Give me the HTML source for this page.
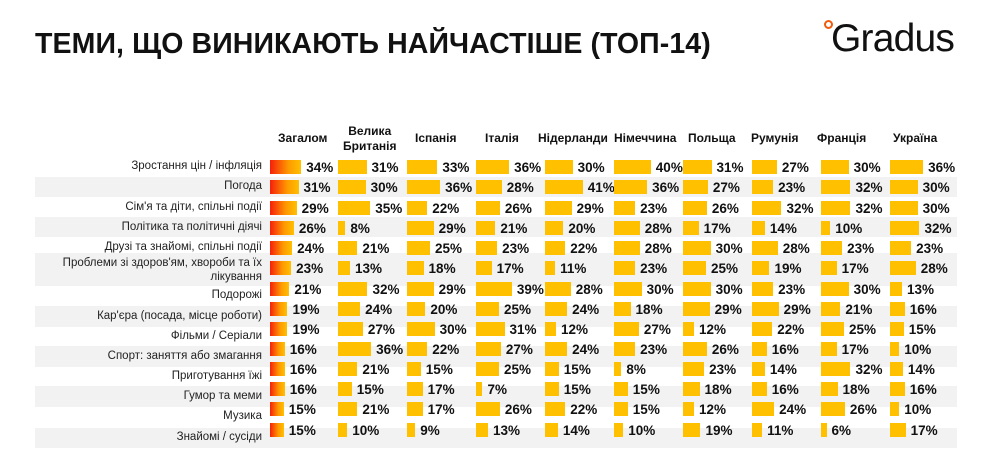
<!DOCTYPE html>
<html><head><meta charset="utf-8"><style>
body{margin:0;width:986px;height:453px;background:#fff;position:relative;overflow:hidden;font-family:"Liberation Sans",Arial,sans-serif;color:#111}
.t{position:absolute;left:35px;top:28px;font-size:28.5px;font-weight:bold;letter-spacing:0.1px;white-space:nowrap}
.logo{position:absolute;left:831px;top:17px;font-size:39px;color:#111;letter-spacing:-0.8px}
.dot{position:absolute;left:824px;top:20px;width:5px;height:5px;border:2px solid #f25a0c;border-radius:50%}
.band{position:absolute;left:35px;width:922px;background:#f2f2f2}
.h{position:absolute;font-size:12px;font-weight:bold;text-align:center;line-height:15px}
.lb{position:absolute;right:724px;font-size:11.5px;color:#222;text-align:right;line-height:13px;white-space:nowrap}
.r{position:absolute;left:0;height:14px;width:986px}
.r i{position:absolute;top:0;height:14px;display:flex;align-items:center;font-style:normal;font-weight:bold;font-size:13.5px;white-space:nowrap}
.r i b{display:block;height:14px;width:calc(var(--v)*0.92px);background:#ffc000;margin-right:5px}
.r i:nth-child(1) b{background:linear-gradient(90deg,#f5200a,#ff9a00 60%,#ffc000)}
.r i:nth-child(1){left:270px}.r i:nth-child(2){left:338px}.r i:nth-child(3){left:407px}.r i:nth-child(4){left:476px}.r i:nth-child(5){left:545px}.r i:nth-child(6){left:614px}.r i:nth-child(7){left:683px}.r i:nth-child(8){left:752px}.r i:nth-child(9){left:821px}.r i:nth-child(10){left:890px}
</style></head><body>
<div class="t">ТЕМИ, ЩО ВИНИКАЮТЬ НАЙЧАСТІШЕ (ТОП-14)</div>
<div class="dot"></div><div class="logo">Gradus</div>

<div class="band" style="top:177px;height:20px"></div>
<div class="band" style="top:217px;height:20px"></div>
<div class="band" style="top:253px;height:33px"></div>
<div class="band" style="top:306px;height:21px"></div>
<div class="band" style="top:346px;height:21px"></div>
<div class="band" style="top:386px;height:21px"></div>
<div class="band" style="top:428px;height:20px"></div>

<div class="h" style="left:278px;top:131px">Загалом</div>
<div class="h" style="left:343px;top:124px">Велика<br>Британія</div>
<div class="h" style="left:415px;top:131px">Іспанія</div>
<div class="h" style="left:485px;top:131px">Італія</div>
<div class="h" style="left:538px;top:131px">Нідерланди</div>
<div class="h" style="left:614px;top:131px">Німеччина</div>
<div class="h" style="left:688px;top:131px">Польща</div>
<div class="h" style="left:751px;top:131px">Румунія</div>
<div class="h" style="left:817px;top:131px">Франція</div>
<div class="h" style="left:893px;top:131px">Україна</div>

<div class="lb" style="top:160px">Зростання цін / інфляція</div>
<div class="lb" style="top:180px">Погода</div>
<div class="lb" style="top:201px">Сім'я та діти, спільні події</div>
<div class="lb" style="top:221px">Політика та політичні діячі</div>
<div class="lb" style="top:241px">Друзі та знайомі, спільні події</div>
<div class="lb" style="top:256px;line-height:14px">Проблеми зі здоров'ям, хвороби та їх<br>лікування</div>
<div class="lb" style="top:289px">Подорожі</div>
<div class="lb" style="top:310px">Кар'єра (посада, місце роботи)</div>
<div class="lb" style="top:330px">Фільми / Серіали</div>
<div class="lb" style="top:350px">Спорт: заняття або змагання</div>
<div class="lb" style="top:370px">Приготування їжі</div>
<div class="lb" style="top:390px">Гумор та меми</div>
<div class="lb" style="top:410px">Музика</div>
<div class="lb" style="top:431px">Знайомі / сусіди</div>

<div class="r" style="top:160px"><i style="--v:34"><b></b>34%</i><i style="--v:31"><b></b>31%</i><i style="--v:33"><b></b>33%</i><i style="--v:36"><b></b>36%</i><i style="--v:30"><b></b>30%</i><i style="--v:40"><b></b>40%</i><i style="--v:31"><b></b>31%</i><i style="--v:27"><b></b>27%</i><i style="--v:30"><b></b>30%</i><i style="--v:36"><b></b>36%</i></div>
<div class="r" style="top:180px"><i style="--v:31"><b></b>31%</i><i style="--v:30"><b></b>30%</i><i style="--v:36"><b></b>36%</i><i style="--v:28"><b></b>28%</i><i style="--v:41"><b></b>41%</i><i style="--v:36"><b></b>36%</i><i style="--v:27"><b></b>27%</i><i style="--v:23"><b></b>23%</i><i style="--v:32"><b></b>32%</i><i style="--v:30"><b></b>30%</i></div>
<div class="r" style="top:201px"><i style="--v:29"><b></b>29%</i><i style="--v:35"><b></b>35%</i><i style="--v:22"><b></b>22%</i><i style="--v:26"><b></b>26%</i><i style="--v:29"><b></b>29%</i><i style="--v:23"><b></b>23%</i><i style="--v:26"><b></b>26%</i><i style="--v:32"><b></b>32%</i><i style="--v:32"><b></b>32%</i><i style="--v:30"><b></b>30%</i></div>
<div class="r" style="top:221px"><i style="--v:26"><b></b>26%</i><i style="--v:8"><b></b>8%</i><i style="--v:29"><b></b>29%</i><i style="--v:21"><b></b>21%</i><i style="--v:20"><b></b>20%</i><i style="--v:28"><b></b>28%</i><i style="--v:17"><b></b>17%</i><i style="--v:14"><b></b>14%</i><i style="--v:10"><b></b>10%</i><i style="--v:32"><b></b>32%</i></div>
<div class="r" style="top:241px"><i style="--v:24"><b></b>24%</i><i style="--v:21"><b></b>21%</i><i style="--v:25"><b></b>25%</i><i style="--v:23"><b></b>23%</i><i style="--v:22"><b></b>22%</i><i style="--v:28"><b></b>28%</i><i style="--v:30"><b></b>30%</i><i style="--v:28"><b></b>28%</i><i style="--v:23"><b></b>23%</i><i style="--v:23"><b></b>23%</i></div>
<div class="r" style="top:261px"><i style="--v:23"><b></b>23%</i><i style="--v:13"><b></b>13%</i><i style="--v:18"><b></b>18%</i><i style="--v:17"><b></b>17%</i><i style="--v:11"><b></b>11%</i><i style="--v:23"><b></b>23%</i><i style="--v:25"><b></b>25%</i><i style="--v:19"><b></b>19%</i><i style="--v:17"><b></b>17%</i><i style="--v:28"><b></b>28%</i></div>
<div class="r" style="top:282px"><i style="--v:21"><b></b>21%</i><i style="--v:32"><b></b>32%</i><i style="--v:29"><b></b>29%</i><i style="--v:39"><b></b>39%</i><i style="--v:28"><b></b>28%</i><i style="--v:30"><b></b>30%</i><i style="--v:30"><b></b>30%</i><i style="--v:23"><b></b>23%</i><i style="--v:30"><b></b>30%</i><i style="--v:13"><b></b>13%</i></div>
<div class="r" style="top:302px"><i style="--v:19"><b></b>19%</i><i style="--v:24"><b></b>24%</i><i style="--v:20"><b></b>20%</i><i style="--v:25"><b></b>25%</i><i style="--v:24"><b></b>24%</i><i style="--v:18"><b></b>18%</i><i style="--v:29"><b></b>29%</i><i style="--v:29"><b></b>29%</i><i style="--v:21"><b></b>21%</i><i style="--v:16"><b></b>16%</i></div>
<div class="r" style="top:322px"><i style="--v:19"><b></b>19%</i><i style="--v:27"><b></b>27%</i><i style="--v:30"><b></b>30%</i><i style="--v:31"><b></b>31%</i><i style="--v:12"><b></b>12%</i><i style="--v:27"><b></b>27%</i><i style="--v:12"><b></b>12%</i><i style="--v:22"><b></b>22%</i><i style="--v:25"><b></b>25%</i><i style="--v:15"><b></b>15%</i></div>
<div class="r" style="top:342px"><i style="--v:16"><b></b>16%</i><i style="--v:36"><b></b>36%</i><i style="--v:22"><b></b>22%</i><i style="--v:27"><b></b>27%</i><i style="--v:24"><b></b>24%</i><i style="--v:23"><b></b>23%</i><i style="--v:26"><b></b>26%</i><i style="--v:16"><b></b>16%</i><i style="--v:17"><b></b>17%</i><i style="--v:10"><b></b>10%</i></div>
<div class="r" style="top:362px"><i style="--v:16"><b></b>16%</i><i style="--v:21"><b></b>21%</i><i style="--v:15"><b></b>15%</i><i style="--v:25"><b></b>25%</i><i style="--v:15"><b></b>15%</i><i style="--v:8"><b></b>8%</i><i style="--v:23"><b></b>23%</i><i style="--v:14"><b></b>14%</i><i style="--v:32"><b></b>32%</i><i style="--v:14"><b></b>14%</i></div>
<div class="r" style="top:382px"><i style="--v:16"><b></b>16%</i><i style="--v:15"><b></b>15%</i><i style="--v:17"><b></b>17%</i><i style="--v:7"><b></b>7%</i><i style="--v:15"><b></b>15%</i><i style="--v:15"><b></b>15%</i><i style="--v:18"><b></b>18%</i><i style="--v:16"><b></b>16%</i><i style="--v:18"><b></b>18%</i><i style="--v:16"><b></b>16%</i></div>
<div class="r" style="top:402px"><i style="--v:15"><b></b>15%</i><i style="--v:21"><b></b>21%</i><i style="--v:17"><b></b>17%</i><i style="--v:26"><b></b>26%</i><i style="--v:22"><b></b>22%</i><i style="--v:15"><b></b>15%</i><i style="--v:12"><b></b>12%</i><i style="--v:24"><b></b>24%</i><i style="--v:26"><b></b>26%</i><i style="--v:10"><b></b>10%</i></div>
<div class="r" style="top:423px"><i style="--v:15"><b></b>15%</i><i style="--v:10"><b></b>10%</i><i style="--v:9"><b></b>9%</i><i style="--v:13"><b></b>13%</i><i style="--v:14"><b></b>14%</i><i style="--v:10"><b></b>10%</i><i style="--v:19"><b></b>19%</i><i style="--v:11"><b></b>11%</i><i style="--v:6"><b></b>6%</i><i style="--v:17"><b></b>17%</i></div>
</body></html>
